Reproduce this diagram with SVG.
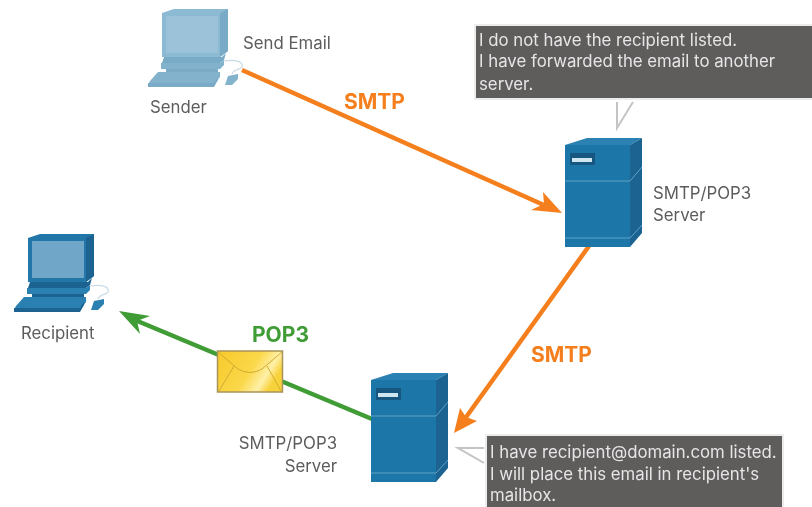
<svg xmlns="http://www.w3.org/2000/svg" width="812" height="507" viewBox="0 0 812 507">
<style>
text{font-family:Inter,"Liberation Sans",Arial,sans-serif}
.lab{font-size:16.8px;fill:#5c5c5e}
.call{font-size:16.8px;fill:#e6e6e6}
.proto{font-size:21px;font-weight:700}
.or{stroke:#f47f1f;stroke-width:4.5;fill:none}
.gr{stroke:#3f9c35;stroke-width:4.5;fill:none}
.box{fill:#5f5b5c;stroke:#ececec;stroke-width:2}
.tail{fill:none;stroke:#c4c4c4;stroke-width:2}
.s1{fill:#1f76a8}.s2{fill:#1a6491}.s3{fill:#2a81b2}.sl{stroke:#5fa3c6;stroke-width:1;fill:none}
.m{fill:var(--m)}.d{fill:var(--d)}.c{fill:var(--c)}.l{fill:var(--l)}
#sender{--m:#8dbad3;--d:#7aabc6;--c:#9cc2d9;--l:#82b2cc}
#recipient{--m:#2477a8;--d:#1a6491;--c:#6fa6c8;--l:#2a80b0}
</style>
<defs>
<filter id="soft" x="0" y="0" width="100%" height="100%"><feGaussianBlur stdDeviation="0.55"/></filter>
<linearGradient id="env" x1="0" y1="0" x2="1" y2="0.4"><stop offset="0" stop-color="#f7c92a"/><stop offset="0.6" stop-color="#fbd84a"/><stop offset="0.85" stop-color="#fff0a8"/><stop offset="1" stop-color="#f8d23a"/></linearGradient>
<g id="pc">
<path class="m" d="M0 4L12 0H66V42L58 48H0Z"/>
<path class="d" d="M58 4L66 0V42L58 48Z"/>
<path class="c" d="M4 7H56V44H4Z"/>
<path class="d" d="M2 48H60L64 44L62 51L58 54H0Z"/>
<path class="l" d="M-1 54H58L62 51V56L58 60H-1Z"/>
<path class="d" d="M4 60H56V63H4Z"/>
<path class="l" d="M-4 63H58V68L52 76H-14L-12 72Z"/>
<path class="d" d="M-14 74H52L56 68V71L52 78H-14Z"/>
<path class="l" d="M63 76L66 67L76 65L76 70L70 76Z"/>
<path d="M62 52C74 50 82 53 80 58C78 61 72 60 70 65" fill="none" stroke="#c9dbe5" stroke-width="1.2"/>
</g>
<g id="srv">
<path class="s1" d="M0 7H65V109H0Z"/>
<path class="s3" d="M0 7L22 0H77L65 7Z"/>
<path class="s2" d="M65 7L77 0V95L65 109Z"/>
<path class="sl" d="M0 43H65L77 29"/>
<path class="sl" d="M0 100H65L77 87"/>
<rect x="5" y="15" width="25" height="12" fill="#15567f"/>
<rect x="7" y="20" width="20" height="4" fill="#cfe6f1"/>
</g>
</defs>
<rect width="812" height="507" fill="#fff"/>
<g filter="url(#soft)">
<g id="connectors">
<path class="or" d="M242 70L546 206"/>
<path d="M562 213L531 210L544 204L543 192Z" fill="#f47f1f"/>
<path class="or" d="M589 246L464 420"/>
<path d="M454 433L460 408L466 417L477 421Z" fill="#f47f1f"/>
<path class="gr" d="M372 419L135 320"/>
<path d="M119 311L150 316L137 321L140 334Z" fill="#3f9c35"/>
</g>
<g id="sender">
<use href="#pc" x="162" y="9"/>
<text class="lab" x="150" y="113">Sender</text>
<text class="lab" x="243" y="49">Send Email</text>
</g>
<g id="recipient">
<use href="#pc" x="28" y="234"/>
<text class="lab" x="21" y="339">Recipient</text>
</g>
<g id="server1">
<use href="#srv" x="565" y="138"/>
<text class="lab" x="653" y="199">SMTP/POP3</text>
<text class="lab" x="653" y="221">Server</text>
</g>
<g id="server2">
<use href="#srv" x="371" y="373"/>
<text class="lab" x="337" y="449" text-anchor="end">SMTP/POP3</text>
<text class="lab" x="337" y="472" text-anchor="end">Server</text>
</g>
<g id="envelope">
<rect x="217.500" y="351" width="65" height="41" fill="url(#env)" stroke="#a8935a" stroke-width="1.500"/>
<path d="M218 352L238 369Q250 376 262 369L282 352" fill="none" stroke="#d2ab32"/>
<path d="M219 391L234 366M281 391L267 366" fill="none" stroke="#d2ab32"/>
</g>
<g id="label-smtp1"><text class="proto" x="344" y="109" fill="#f47f1f">SMTP</text></g>
<g id="label-smtp2"><text class="proto" x="531" y="362" fill="#f47f1f">SMTP</text></g>
<g id="label-pop3"><text class="proto" x="252" y="342" fill="#3f9c35">POP3</text></g>
<g id="callout1">
<path class="tail" d="M617 102V128L633 102"/>
<rect class="box" x="475" y="25" width="338" height="74"/>
<text class="call" x="479" y="46">I do not have the recipient listed.</text>
<text class="call" x="479" y="67">I have forwarded the email to another</text>
<text class="call" x="479" y="90">server.</text>
</g>
<g id="callout2">
<path class="tail" d="M484 448H458L484 463"/>
<rect class="box" x="486" y="435" width="297" height="74"/>
<text class="call" x="490" y="458">I have recipient@domain.com listed.</text>
<text class="call" x="490" y="480">I will place this email in recipient's</text>
<text class="call" x="490" y="501">mailbox.</text>
</g>
</g>
</svg>
